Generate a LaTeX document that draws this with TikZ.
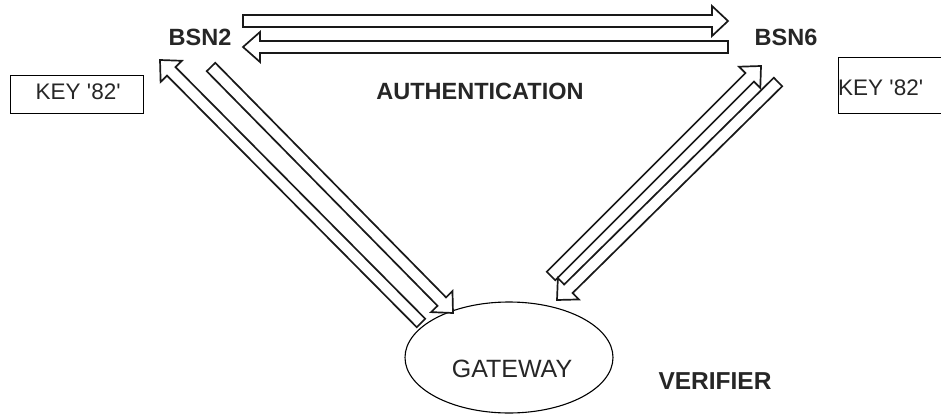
\documentclass[tikz,border=0pt]{standalone}
\usepackage{fontspec}
\setmainfont{Liberation Sans}
\usetikzlibrary{calc,shapes.geometric,positioning}

% hollow block arrow: [head length]{tail}{tip}
\newcommand{\blockarrow}[3][16]{%
  \coordinate (hb) at ($(#3)!#1pt!(#2)$);
  \draw[blockline] ($(#2)!6pt!90:(#3)$) -- ($(hb)!6pt!-90:(#2)$)
    -- ($(hb)!15pt!-90:(#2)$) -- (#3) -- ($(hb)!15pt!90:(#2)$)
    -- ($(hb)!6pt!90:(#2)$) -- ($(#2)!6pt!-90:(#3)$) -- cycle;
}

\begin{document}
\begin{tikzpicture}[
  x=1pt, y=-1pt,
  blockline/.style={draw=black!90, line width=1.7pt, fill=white, line join=miter},
  lbl/.style={font=\fontsize{23.5}{26}\selectfont\bfseries, text=black!85},
  keybox/.style={rectangle, draw=black, line width=1.3pt, minimum width=133pt, minimum height=38pt, inner sep=0pt},
  keytext/.style={font=\fontsize{22.5}{25}\selectfont, text=black!85, inner sep=0pt}
]
\useasboundingbox (0,0) rectangle (941,414);
\clip (0,0) rectangle (941,414);

\node[lbl] (bsntwo) at (200,37) {BSN2};
\node[lbl] (bsnsix) at (786,37) {BSN6};
\node[lbl, font=\fontsize{23.5}{26}\selectfont\bfseries] (auth) at (480,91) {AUTHENTICATION};
\node[lbl, font=\fontsize{24.5}{27}\selectfont\bfseries] (verifier) at (715,381) {VERIFIER};

\node[keybox, anchor=north west] (keyleft) at (10,75) {};
\node[keytext] (keylefttext) at ($(keyleft.center)+(1,-3)$) {KEY \textquotesingle 82\textquotesingle};
\node[keybox, minimum height=56pt, anchor=north west] (keyright) at (838,57) {};
\node[keytext, anchor=west] (keyrighttext) at ($(keyright.west)+(0,2)$) {KEY \textquotesingle 82\textquotesingle};

\node[ellipse, draw=black, line width=1.1pt, minimum width=208pt, minimum height=111pt, inner sep=0pt] (gateway) at (509,357.5) {};
\node[keytext, font=\fontsize{25}{28}\selectfont] (gwlabel) at ($(gateway.center)+(3,11)$) {GATEWAY};

% BSN2 <-> BSN6
\coordinate (toprighttail) at (243,21);
\coordinate (toprighttip) at (728,21);
\blockarrow{toprighttail}{toprighttip}
\coordinate (toplefttail) at (728,47);
\coordinate (toplefttip) at (243,47);
\blockarrow[17]{toplefttail}{toplefttip}

% gateway <-> BSN2
\coordinate (lupstart) at (421,323);
\coordinate (lupend) at (160,60);
\blockarrow{lupstart}{lupend}
\coordinate (ldownstart) at (211,67);
\coordinate (ldownend) at (453,313);
\blockarrow{ldownstart}{ldownend}

% gateway <-> BSN6
\coordinate (rupstart) at (551,276);
\coordinate (rupend) at (761,66);
\blockarrow{rupstart}{rupend}
\coordinate (rdownstart) at (778,82);
\coordinate (rdownend) at (557,300);
\blockarrow{rdownstart}{rdownend}

\end{tikzpicture}
\end{document}
